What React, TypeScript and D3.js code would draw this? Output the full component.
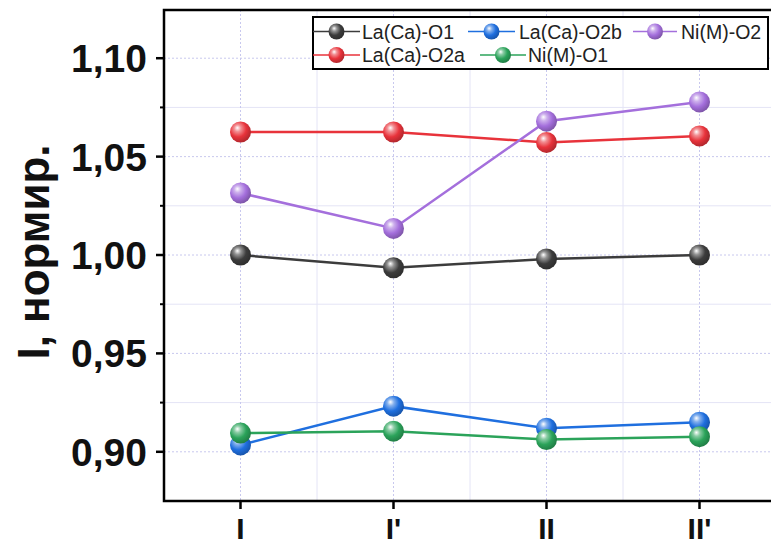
import React from "react";
import * as d3 from "d3";

const categories = ["I", "I'", "II", "II'"];
const seriesNames = ["La(Ca)-O1", "La(Ca)-O2a", "La(Ca)-O2b", "Ni(M)-O1", "Ni(M)-O2"];
const laO1 = [1.0, 0.9935, 0.998, 1.0];
const laO2a = [1.0625, 1.0625, 1.0572, 1.0605];
const laO2b = [0.9035, 0.9232, 0.912, 0.915];
const niO1 = [0.9095, 0.9105, 0.9062, 0.9077];
const niO2 = [1.0315, 1.0135, 1.068, 1.0778];
const colors = ["#3c3c3c", "#e8333b", "#1f6fdf", "#2ba35a", "#a46fdc"];
const yTicks = [0.9, 0.95, 1.0, 1.05, 1.1];
const yMinor = [0.875, 0.925, 0.975, 1.025, 1.075, 1.125];

const W = 771, H = 546;
const L = 164, T = 10, R = 776, B = 501;

export default function App() {
  const x = d3.scaleLinear().domain([-0.5, 3.5]).range([L, R]);
  const y = d3.scaleLinear().domain([0.875, 1.1245]).range([B, T]);
  const data = [laO1, laO2a, laO2b, niO1, niO2];
  const line = d3.line<number>().x((_, i) => x(i)).y((d) => y(d));
  const order = [0, 1, 4, 2, 3];
  const font = "Arial, 'Liberation Sans', sans-serif";
  const xMinor = [0.5, 1.5, 2.5];

  const legendItems = [
    { s: 0, lx: 313, w: 47, tx: 362, row: 0 },
    { s: 2, lx: 468, w: 47, tx: 519, row: 0 },
    { s: 4, lx: 633, w: 44, tx: 681, row: 0 },
    { s: 1, lx: 313, w: 47, tx: 362, row: 1 },
    { s: 3, lx: 480, w: 46, tx: 528, row: 1 },
  ];

  return (
    <svg width={W} height={H} style={{ position: "absolute", left: 0, top: 0, background: "#fff" }}>
      <defs>
        {colors.map((c, i) => (
          <radialGradient key={i} id={"g" + i} cx="0.4" cy="0.38" r="0.65" fx="0.35" fy="0.3">
            <stop offset="0" stopColor="#ffffff" />
            <stop offset="0.25" stopColor={d3.interpolateRgb("#ffffff", c)(0.55)} />
            <stop offset="0.6" stopColor={c} />
            <stop offset="1" stopColor={d3.color(c)!.darker(0.8).toString()} />
          </radialGradient>
        ))}
      </defs>
      <rect width={W} height={H} fill="#fff" />
      {/* grid */}
      {yTicks.map((t) => (
        <line key={"gy" + t} x1={L} x2={R} y1={y(t)} y2={y(t)} stroke="#c8c8ee" strokeWidth={1} strokeDasharray="2,2" />
      ))}
      {yMinor.slice(1, 5).map((t) => (
        <line key={"gym" + t} x1={L} x2={R} y1={y(t)} y2={y(t)} stroke="#e4e4f6" strokeWidth={1} />
      ))}
      {categories.map((_, i) => (
        <line key={"gx" + i} x1={x(i)} x2={x(i)} y1={T} y2={B} stroke="#c8c8ee" strokeWidth={1} strokeDasharray="2,2" />
      ))}
      {xMinor.map((t) => (
        <line key={"gxm" + t} x1={x(t)} x2={x(t)} y1={T} y2={B} stroke="#e4e4f6" strokeWidth={1} />
      ))}
      {/* series */}
      {order.map((s) => (
        <path key={"l" + s} d={line(data[s]) || ""} fill="none" stroke={colors[s]} strokeWidth={2.5} />
      ))}
      {order.map((s) =>
        data[s].map((v, i) => (
          <circle key={"c" + s + "-" + i} cx={x(i)} cy={y(v)} r={10.5} fill={`url(#g${s})`} />
        ))
      )}
      {/* frame */}
      <rect x={L} y={T} width={R - L} height={B - T} fill="none" stroke="#000" strokeWidth={2.5} />
      {/* y ticks */}
      {yTicks.map((t) => (
        <g key={"yt" + t}>
          <line x1={L - 8} x2={L} y1={y(t)} y2={y(t)} stroke="#000" strokeWidth={2.5} />
          <text x={L - 17} y={y(t)} dy="0.36em" textAnchor="end" fontFamily={font} fontWeight="bold" fontSize={39} fill="#111">
            {d3.format(".2f")(t).replace(".", ",")}
          </text>
        </g>
      ))}
      {yMinor.slice(1, 5).map((t) => (
        <line key={"ymt" + t} x1={L - 4} x2={L} y1={y(t)} y2={y(t)} stroke="#000" strokeWidth={2} />
      ))}
      {/* x ticks */}
      {categories.map((c, i) => (
        <g key={"xt" + i}>
          <line x1={x(i)} x2={x(i)} y1={B} y2={B + 8} stroke="#000" strokeWidth={2.5} />
          <text x={x(i)} y={B + 38} textAnchor="middle" fontFamily={font} fontWeight="bold" fontSize={30} fill="#111">
            {c}
          </text>
        </g>
      ))}
      {/* y label */}
      <text transform={`translate(49,252) rotate(-90)`} textAnchor="middle" fontFamily={font} fontWeight="bold" fontSize={44} fill="#111">
        I, нормир.
      </text>
      {/* legend */}
      <rect x={313} y={17} width={455} height={52} fill="#fff" stroke="#000" strokeWidth={2} />
      {legendItems.map((it) => {
        const cy = it.row === 0 ? 31.5 : 55;
        return (
          <g key={"lg" + it.s}>
            <line x1={it.lx} x2={it.lx + it.w} y1={cy} y2={cy} stroke={colors[it.s]} strokeWidth={1.5} />
            <circle cx={it.lx + it.w / 2} cy={cy} r={8} fill={`url(#g${it.s})`} />
            <text x={it.tx} y={cy} dy="0.36em" fontFamily={font} fontSize={19.5} fill="#222">
              {seriesNames[it.s]}
            </text>
          </g>
        );
      })}
    </svg>
  );
}
